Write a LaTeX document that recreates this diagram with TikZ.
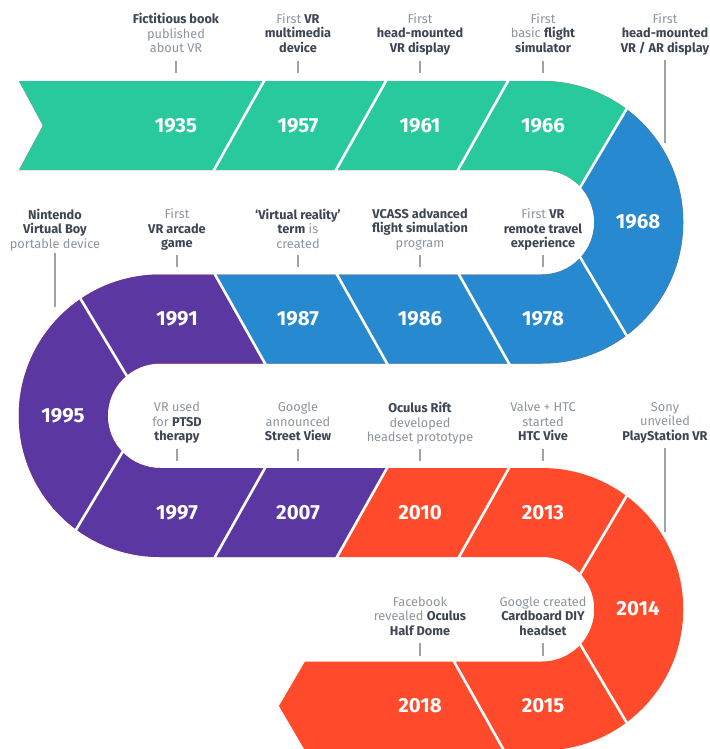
\documentclass[tikz,border=0pt]{standalone}
\usepackage{fontspec}
\setmainfont{Fira Sans}
\definecolor{vrgreen}{HTML}{28C99C}
\definecolor{vrblue}{HTML}{2789D0}
\definecolor{vrpurple}{HTML}{5A37A1}
\definecolor{vrred}{HTML}{FF4B2B}
\definecolor{labgrey}{HTML}{8E959E}
\definecolor{labdark}{HTML}{3D4654}
\definecolor{tickgrey}{HTML}{9EA3A8}
\newcommand{\Bt}[1]{{\color{labdark}\bfseries #1}}
\newcommand{\bandshape}{(19,81) -- (542,81) arc[start angle=-90,end angle=90,radius=141.25]
  -- (160,363.5) arc[start angle=-90,end angle=-270,radius=52.25]
  -- (542,468) arc[start angle=-90,end angle=90,radius=141.25]
  -- (305,750.5) -- (279,706) -- (305,661.5)
  -- (542,661.5) arc[start angle=90,end angle=-90,radius=52.25]
  -- (160,557) arc[start angle=90,end angle=270,radius=141.25]
  -- (542,274.5) arc[start angle=90,end angle=-90,radius=52.25]
  -- (19,170) -- (43,125.5) -- cycle}
\begin{document}
\begin{tikzpicture}[x=1bp,y=-1bp,
  year/.style={text=white,font=\fontsize{20.5}{24}\selectfont\bfseries,inner sep=0pt},
  lab/.style={text=labgrey,font=\fontsize{12.8}{14.6}\selectfont,align=center,anchor=north,inner sep=0pt},
  tick/.style={draw=tickgrey,line width=1.1bp},
  divider/.style={draw=white,line width=2.6bp}]
\useasboundingbox (0,0) rectangle (710,749);
\fill[white] (0,0) rectangle (710,749);
% band
\fill[vrred] \bandshape;
\begin{scope}
  \clip \bandshape;
  \fill[vrgreen] (0,0) -- (691.3,0) -- (559.4,222.25) -- (0,222.25) -- cycle;
  \fill[vrblue] (559.4,222.25) -- (691.3,0) -- (720,0) -- (720,400) -- (285.5,400) -- (195.6,240) -- (559.4,240) -- cycle;
  \fill[vrpurple] (0,240) -- (195.6,240) -- (285.5,400) -- (424.2,400) -- (306.2,610) -- (0,610) -- cycle;
\end{scope}
% dividers
\foreach \c in {239,361,483} {
  \draw[divider] (\c+28.1,75.5) -- (\c-28.1,175.5);
  \draw[divider] (\c+1-28.1,269) -- (\c+1+28.1,369);
  \draw[divider] (\c+1+28.1,462.5) -- (\c+1-28.1,562.5);
}
\draw[divider] (479-28.1,656) -- (479+28.1,756);
\draw[divider] (576,194.25) -- (630,103.25);
\draw[divider] (576,250.25) -- (630,341.25);
\draw[divider] (576,581.25) -- (630,490.25);
\draw[divider] (576,637.25) -- (630,728.25);
\draw[divider] (131,382.9) -- (75.9,291.1);
\draw[divider] (126.1,446.1) -- (72.9,534.9);
% years
\node[year] (y1935) at (176,125.5) {1935};
\node[year] (y1957) at (298,125.5) {1957};
\node[year] (y1961) at (420,125.5) {1961};
\node[year] (y1966) at (543,125.5) {1966};
\node[year] (y1968) at (638,222) {1968};
\node[year] (y1978) at (543,319) {1978};
\node[year] (y1986) at (420,319) {1986};
\node[year] (y1987) at (298,319) {1987};
\node[year] (y1991) at (177,319) {1991};
\node[year] (y1995) at (63,416) {1995};
\node[year] (y1997) at (177,513) {1997};
\node[year] (y2007) at (298,513) {2007};
\node[year] (y2010) at (420,513) {2010};
\node[year] (y2013) at (543,513) {2013};
\node[year] (y2014) at (638,609) {2014};
\node[year] (y2015) at (543,706) {2015};
\node[year] (y2018) at (420,706) {2018};
% labels
\node[lab] (l1935) at (176,13) {\Bt{Fictitious book}\\published\\about VR};
\node[lab] (l1957) at (298,13) {First \Bt{VR}\\\Bt{multimedia}\\\Bt{device}};
\node[lab] (l1961) at (420,13) {First\\\Bt{head-mounted}\\\Bt{VR display}};
\node[lab] (l1966) at (543,13) {First\\basic \Bt{flight}\\\Bt{simulator}};
\node[lab] (l1968) at (665,13) {First\\\Bt{head-mounted}\\\Bt{VR / AR display}};
\node[lab] (l1995) at (55,208.5) {\Bt{Nintendo}\\\Bt{Virtual Boy}\\portable device};
\node[lab] (l1991) at (177,208.5) {First\\\Bt{VR arcade}\\\Bt{game}};
\node[lab] (l1987) at (298,208.5) {\Bt{‘Virtual reality’}\\\Bt{term} is\\created};
\node[lab] (l1986) at (420,208.5) {\Bt{VCASS advanced}\\\Bt{flight simulation}\\program};
\node[lab] (l1978) at (543,208.5) {First \Bt{VR}\\\Bt{remote travel}\\\Bt{experience}};
\node[lab] (l1997) at (177,402) {VR used\\for \Bt{PTSD}\\\Bt{therapy}};
\node[lab] (l2007) at (298,402) {Google\\announced\\\Bt{Street View}};
\node[lab] (l2010) at (420,402) {\Bt{Oculus Rift}\\developed\\headset prototype};
\node[lab] (l2013) at (543,402) {Valve + HTC\\started\\\Bt{HTC Vive}};
\node[lab] (l2014) at (665,402) {Sony\\unveiled\\\Bt{PlayStation VR}};
\node[lab] (l2018) at (420,596.5) {Facebook\\revealed \Bt{Oculus}\\\Bt{Half Dome}};
\node[lab] (l2015) at (543,596.5) {Google created\\\Bt{Cardboard DIY}\\\Bt{headset}};
% ticks
\foreach \n/\x/\ya/\yb in {
  1935/176/61/73, 1957/298/61/73, 1961/420/61/73, 1966/543/61/73, 1968/665/60/143,
  1995/55/253/307, 1991/177/255/267, 1987/298/255/267, 1986/420/255/267, 1978/543/255/267,
  1997/177/448.5/461, 2007/298/448.5/461, 2010/420/448.5/461, 2013/543/448.5/461, 2014/665/448/532,
  2018/420/643/655.5, 2015/543/643/655.5} {
  \coordinate (ta\n) at (\x,\ya);
  \coordinate (tb\n) at (\x,\yb);
  \draw[tick] (ta\n) -- (tb\n);
}
\end{tikzpicture}
\end{document}
